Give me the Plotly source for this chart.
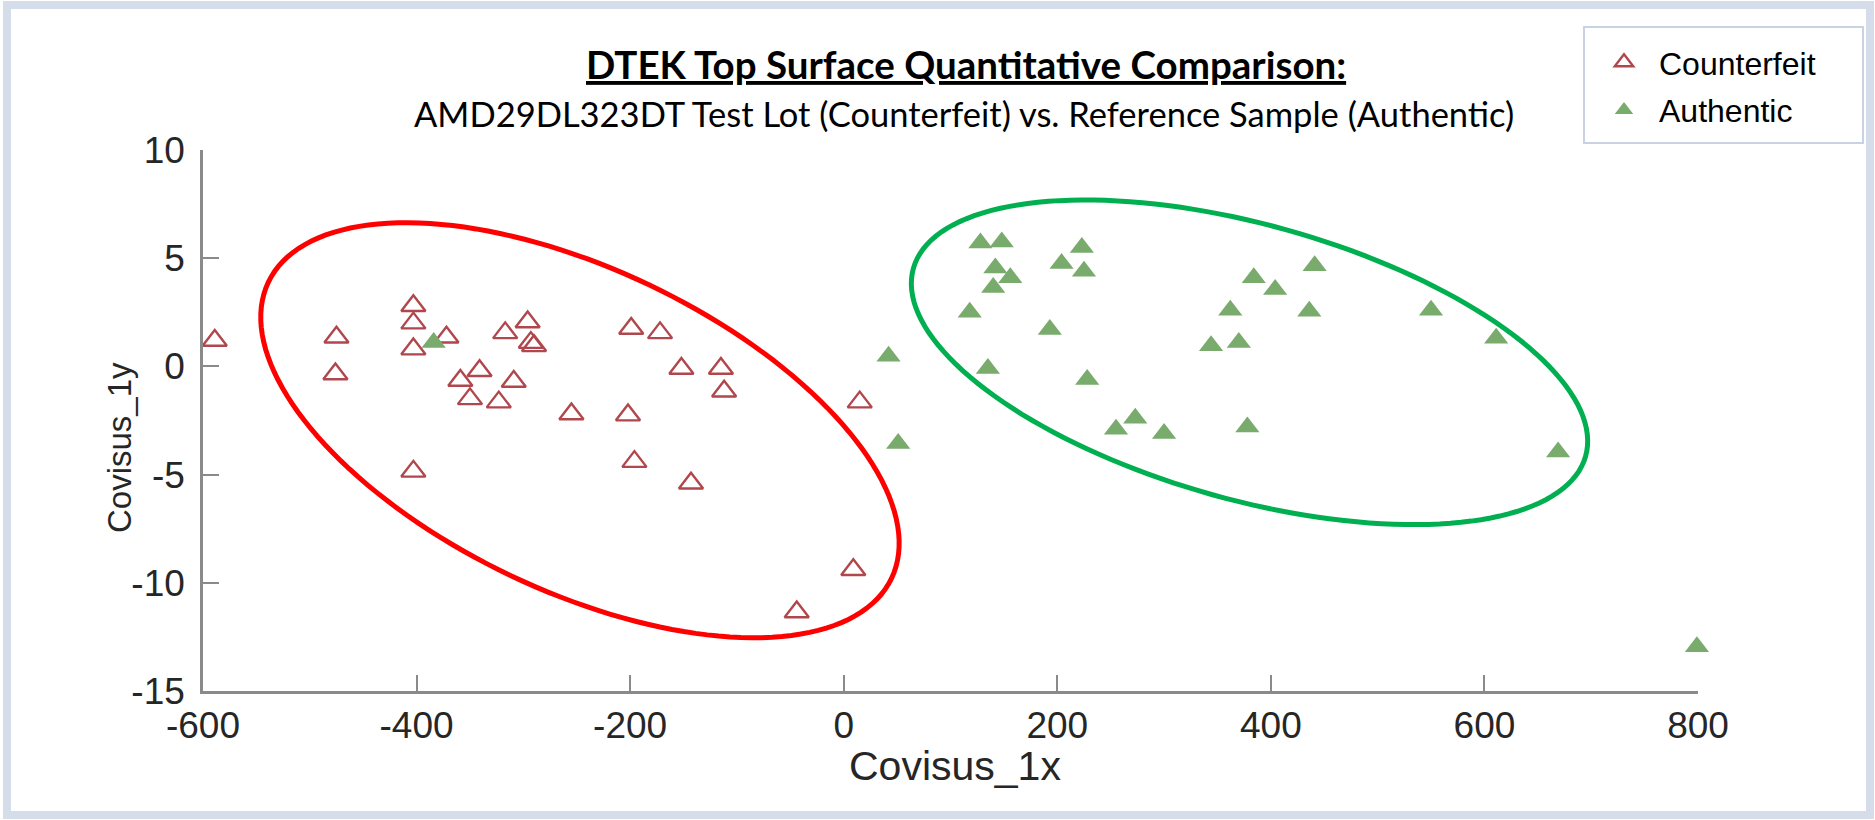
import numpy as np
import plotly.graph_objects as go

# ---------------- data ----------------
counterfeit_x = [-589, -475, -476, -403, -403, -403, -403, -372, -359, -341, -350, -323, -309, -317,
                 -296, -293, -290, -255, -199, -172, -202, -196, -152, -143, -115, -112, -44, 9, 15]
counterfeit_y = [1.2, 1.35, -0.35, 2.8, 2.0, 0.8, -4.85, 1.35, -0.65, -0.2, -1.5, -1.65, -0.7, 1.55,
                 2.05, 1.1, 0.95, -2.2, 1.75, 1.55, -2.25, -4.4, -0.1, -5.4, -0.1, -1.15, -11.35, -9.4, -1.65]

authentic_x = [-384, 42, 51, 118, 128, 148, 142, 156, 140, 135, 193, 204, 223, 225, 228, 255, 273, 300,
               344, 362, 370, 378, 384, 404, 436, 441, 550, 611, 669, 799]
authentic_y = [1.1, 0.47, -3.56, 2.5, 5.7, 5.75, 4.55, 4.1, 3.65, -0.1, 1.7, 4.75, 5.5, 4.4, -0.6, -2.9,
               -2.4, -3.1, 0.95, 2.6, 1.1, -2.8, 4.1, 3.55, 2.55, 4.65, 2.6, 1.3, -3.95, -12.95]

x_ticks = [-600, -400, -200, 0, 200, 400, 600, 800]
y_ticks = [-15, -10, -5, 0, 5, 10]
x_tick_labels = ["-600", "-400", "-200", "0", "200", "400", "600", "800"]
y_tick_labels = ["-15", "-10", "-5", "0", "5", "10"]

series_names = ["Counterfeit", "Authentic"]
title_text = "DTEK Top Surface Quantitative Comparison:"
subtitle_text = "AMD29DL323DT Test Lot (Counterfeit) vs. Reference Sample (Authentic)"
x_title = "Covisus_1x"
y_title = "Covisus_1y"

# ---------------- layout geometry ----------------
W, H = 1875, 820
ML, MR, MT, MB = 203, 177, 150, 129
PW, PH = W - ML - MR, H - MT - MB
X_RANGE = [x_ticks[0], x_ticks[-1]]
Y_RANGE = [y_ticks[0], y_ticks[-1]]
PX_PER_X = PW / (X_RANGE[1] - X_RANGE[0])
PX_PER_Y = PH / (Y_RANGE[1] - Y_RANGE[0])


def pxx(px):
    return (px - ML) / PW


def pxy(py):
    return (H - MB - py) / PH


def ellipse_path(cx, cy, a_px, b_px, theta_deg, n=160):
    th = np.radians(theta_deg)
    t = np.linspace(0, 2 * np.pi, n, endpoint=False)
    dx = a_px * np.cos(t) * np.cos(th) - b_px * np.sin(t) * np.sin(th)
    dy = a_px * np.cos(t) * np.sin(th) + b_px * np.sin(t) * np.cos(th)
    xs = cx + dx / PX_PER_X
    ys = cy - dy / PX_PER_Y
    return "M " + " L ".join(f"{x:.3f},{y:.4f}" for x, y in zip(xs, ys)) + " Z"


SANS = "Liberation Sans, Arial, sans-serif"
CALIBRI_LIKE = "Lato, Carlito, Calibri, Open Sans, sans-serif"
AXIS_GRAY = "#8a8a8a"
TEXT_DARK = "#262626"

fig = go.Figure()
fig.add_trace(go.Scatter(
    x=counterfeit_x, y=counterfeit_y, mode="markers", name=series_names[0], legendgroup="g1",
    marker=dict(symbol="triangle-up", size=21, color="rgba(255,255,255,0)",
                line=dict(color="#b0474d", width=2.4)),
    cliponaxis=False,
))
fig.add_trace(go.Scatter(
    x=authentic_x, y=authentic_y, mode="markers", name=series_names[1], legendgroup="g2",
    marker=dict(symbol="triangle-up", size=21, color="#79ab6d", line=dict(width=0)),
    cliponaxis=False,
))

shapes = [
    # cluster ellipses
    dict(type="path", xref="x", yref="y", path=ellipse_path(-247, -2.95, 345, 161, 25.4),
         line=dict(color="#ff0000", width=5), layer="above"),
    dict(type="path", xref="x", yref="y", path=ellipse_path(380, 0.19, 349, 137.5, 15.6),
         line=dict(color="#00b050", width=5), layer="above"),
    # outer frame
    dict(type="rect", xref="paper", yref="paper", x0=pxx(7), x1=pxx(1870), y0=pxy(815), y1=pxy(5),
         line=dict(color="#d5ddeb", width=8), layer="below"),
    # legend box
    dict(type="rect", xref="paper", yref="paper", x0=pxx(1584), x1=pxx(1863), y0=pxy(143), y1=pxy(27),
         line=dict(color="#c8d2e2", width=2), layer="below"),
]

annotations = [
    dict(text=f"<b><u>{title_text}</u></b>", x=pxx(966), y=pxy(64), xref="paper", yref="paper",
         showarrow=False, xanchor="center", yanchor="middle",
         font=dict(family=CALIBRI_LIKE, size=38.5, color="black")),
    dict(text=subtitle_text, x=pxx(964), y=pxy(113), xref="paper", yref="paper",
         showarrow=False, xanchor="center", yanchor="middle",
         font=dict(family=CALIBRI_LIKE, size=34.5, color="black")),
    dict(text=x_title, x=pxx(955), y=pxy(766), xref="paper", yref="paper",
         showarrow=False, xanchor="center", yanchor="middle",
         font=dict(family=SANS, size=41, color=TEXT_DARK)),
    dict(text=y_title, x=pxx(119), y=pxy(448), xref="paper", yref="paper", textangle=-90,
         showarrow=False, xanchor="center", yanchor="middle",
         font=dict(family=SANS, size=33, color=TEXT_DARK)),
]

fig.update_layout(
    width=W, height=H,
    margin=dict(l=ML, r=MR, t=MT, b=MB, pad=0),
    paper_bgcolor="white", plot_bgcolor="white",
    font=dict(family=SANS, color="black"),
    showlegend=True,
    legend=dict(x=pxx(1589), y=pxy(35), xanchor="left", yanchor="top",
                bgcolor="rgba(0,0,0,0)", borderwidth=0, itemwidth=60, tracegroupgap=3,
                font=dict(family=SANS, size=32, color="black")),
    shapes=shapes,
    annotations=annotations,
    xaxis=dict(range=X_RANGE, tickmode="array", tickvals=x_ticks, ticktext=x_tick_labels,
               showgrid=False, zeroline=False,
               showline=True, linecolor=AXIS_GRAY, linewidth=2.5, ticks="inside", ticklen=16,
               tickwidth=2, tickcolor=AXIS_GRAY, ticklabelstandoff=0,
               tickfont=dict(family=SANS, size=37, color=TEXT_DARK)),
    yaxis=dict(range=Y_RANGE, tickmode="array", tickvals=y_ticks, ticktext=y_tick_labels,
               showgrid=False, zeroline=False,
               showline=True, linecolor=AXIS_GRAY, linewidth=2.5, ticks="inside", ticklen=16,
               tickwidth=2, tickcolor=AXIS_GRAY, ticklabelstandoff=8,
               tickfont=dict(family=SANS, size=37, color=TEXT_DARK)),
)

fig.write_html("out.html", config={"displayModeBar": False},
               post_script="document.body.style.margin='0';document.body.style.overflow='hidden';")
